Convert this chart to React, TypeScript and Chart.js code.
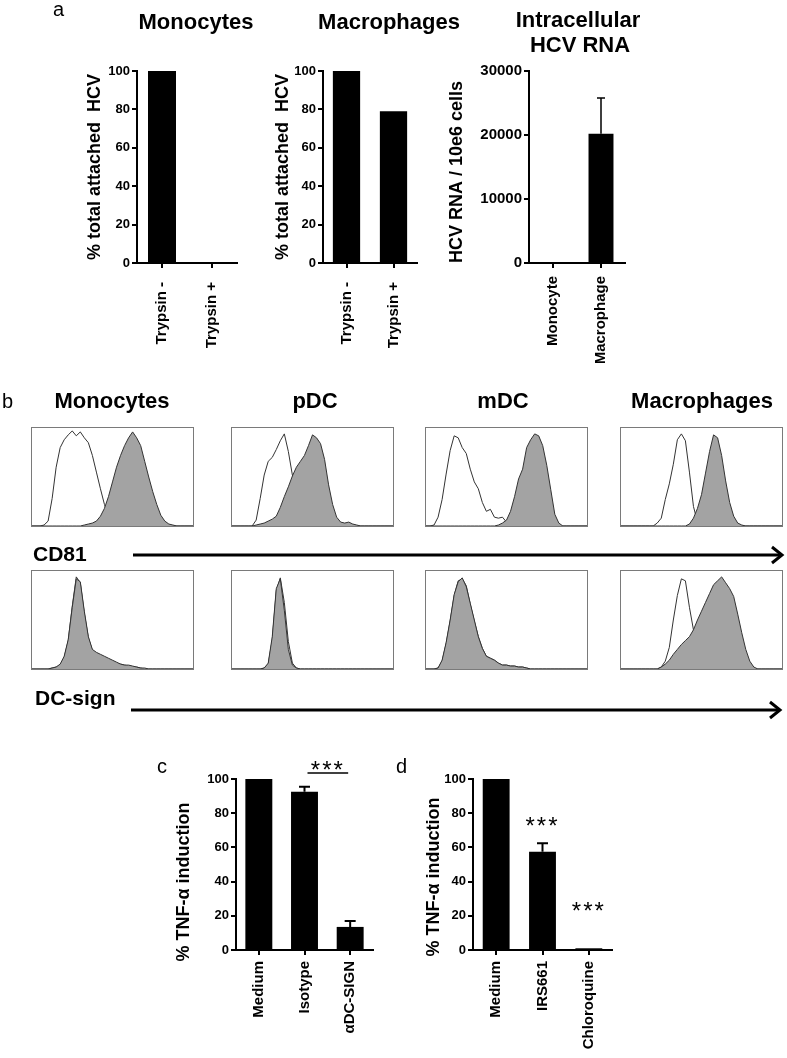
import React, { useEffect, useRef } from 'react';
import { Chart, registerables } from 'chart.js';
Chart.register(...registerables);

const FONT = '"Liberation Sans", Arial, Helvetica, sans-serif';

// ---------- Panel a ----------
const monoCategories = ['Trypsin -', 'Trypsin +'];
const monoAttached = [100, 0];
const macroCategories = ['Trypsin -', 'Trypsin +'];
const macroAttached = [100, 79];
const rnaCategories = ['Monocyte', 'Macrophage'];
const rnaValues = [0, 20200];
const rnaErrors = [0, 5600];
const percentTicks = [0, 20, 40, 60, 80, 100];
const rnaTicks = [0, 10000, 20000, 30000];

// ---------- Panel c ----------
const cCategories = ['Medium', 'Isotype', 'αDC-SIGN'];
const cValues = [100, 92.5, 13.5];
const cErrors = [0, 3, 3.5];
const cBracketText = '***';
const cBracketLevel = 103.5;
const cBracketTextLevel = 100.6;

// ---------- Panel d ----------
const dCategories = ['Medium', 'IRS661', 'Chloroquine'];
const dValues = [100, 57.5, 1];
const dErrors = [0, 5, 0];
const dStarLabels = ['', '***', '***'];
const dStarLevels = [0, 68, 18];

// ---------- Panel b (flow histograms, % of box width / % of max) ----------
const histBins = [0, 2.5, 5, 7.5, 10, 12.5, 15, 17.5, 20, 22.5, 25, 27.5, 30, 32.5, 35, 37.5, 40, 42.5, 45, 47.5, 50,
  52.5, 55, 57.5, 60, 62.5, 65, 67.5, 70, 72.5, 75, 77.5, 80, 82.5, 85, 87.5, 90, 92.5, 95, 97.5, 100];

const monoCd81Iso = [0, 0, 0, 1, 5, 28, 60, 80, 88, 93, 97, 92, 96, 90, 85, 72, 55, 38, 22, 10, 4, 1, 0, 0, 0, 0, 0, 0, 0, 0, 0, 0, 0, 0, 0, 0, 0, 0, 0, 0, 0];
const monoCd81Pos = [0, 0, 0, 0, 0, 0, 0, 0, 0, 0, 0, 0, 0, 1, 2, 3, 5, 10, 18, 30, 45, 60, 72, 82, 90, 96, 90, 82, 66, 50, 35, 22, 11, 5, 2, 1, 0, 0, 0, 0, 0];
const pdcCd81Iso = [0, 0, 0, 0, 0, 0, 6, 28, 52, 66, 70, 78, 87, 94, 76, 52, 38, 25, 12, 5, 2, 0, 0, 0, 0, 0, 0, 0, 0, 0, 0, 0, 0, 0, 0, 0, 0, 0, 0, 0, 0];
const pdcCd81Pos = [0, 0, 0, 0, 0, 0, 1, 2, 3, 5, 7, 10, 19, 30, 40, 51, 60, 66, 72, 82, 93, 90, 84, 68, 42, 22, 9, 4, 3, 4, 2, 1, 0, 0, 0, 0, 0, 0, 0, 0, 0];
const mdcCd81Iso = [0, 0, 1, 9, 27, 53, 77, 92, 90, 80, 74, 58, 45, 38, 24, 15, 17, 9, 8, 9, 4, 1, 0, 0, 0, 0, 0, 0, 0, 0, 0, 0, 0, 0, 0, 0, 0, 0, 0, 0, 0];
const mdcCd81Pos = [0, 0, 0, 0, 0, 0, 0, 0, 0, 0, 0, 0, 0, 0, 0, 0, 0, 0, 1, 3, 6, 15, 30, 48, 58, 80, 88, 94, 92, 82, 62, 37, 12, 3, 0, 0, 0, 0, 0, 0, 0];
const macCd81Iso = [0, 0, 0, 0, 0, 0, 0, 0, 0, 3, 8, 27, 43, 63, 88, 94, 87, 55, 20, 4, 0, 0, 0, 0, 0, 0, 0, 0, 0, 0, 0, 0, 0, 0, 0, 0, 0, 0, 0, 0, 0];
const macCd81Pos = [0, 0, 0, 0, 0, 0, 0, 0, 0, 0, 0, 0, 0, 0, 0, 0, 0, 2, 8, 18, 32, 54, 76, 93, 90, 72, 46, 24, 10, 3, 1, 0, 0, 0, 0, 0, 0, 0, 0, 0, 0];

const monoDcIso = [0, 0, 0, 0, 0, 1, 2, 4, 12, 29, 64, 94, 88, 57, 32, 19, 16, 14, 12, 10, 8, 6, 5, 4, 3, 2, 2, 1, 0, 0, 0, 0, 0, 0, 0, 0, 0, 0, 0, 0, 0];
const monoDcPos = [0, 0, 0, 0, 0, 1, 2, 5, 13, 30, 63, 92, 89, 59, 33, 20, 17, 15, 13, 11, 9, 7, 5, 4, 4, 3, 2, 1, 1, 0, 0, 0, 0, 0, 0, 0, 0, 0, 0, 0, 0];
const pdcDcIso = [0, 0, 0, 0, 0, 0, 0, 0, 1, 5, 30, 80, 93, 68, 28, 6, 1, 0, 0, 0, 0, 0, 0, 0, 0, 0, 0, 0, 0, 0, 0, 0, 0, 0, 0, 0, 0, 0, 0, 0, 0];
const pdcDcPos = [0, 0, 0, 0, 0, 0, 0, 0, 1, 6, 33, 82, 92, 60, 20, 4, 1, 0, 0, 0, 0, 0, 0, 0, 0, 0, 0, 0, 0, 0, 0, 0, 0, 0, 0, 0, 0, 0, 0, 0, 0];
const mdcDcIso = [0, 0, 0, 1, 8, 26, 49, 75, 90, 92, 85, 66, 49, 33, 21, 13, 11, 9, 6, 4, 4, 3, 3, 2, 2, 1, 0, 0, 0, 0, 0, 0, 0, 0, 0, 0, 0, 0, 0, 0, 0];
const mdcDcPos = [0, 0, 0, 1, 9, 27, 50, 76, 89, 93, 84, 67, 50, 33, 21, 13, 11, 9, 6, 4, 4, 3, 3, 2, 2, 1, 0, 0, 0, 0, 0, 0, 0, 0, 0, 0, 0, 0, 0, 0, 0];
const macDcIso = [0, 0, 0, 0, 0, 0, 0, 0, 0, 0, 2, 8, 22, 50, 75, 92, 90, 63, 40, 20, 8, 2, 0, 0, 0, 0, 0, 0, 0, 0, 0, 0, 0, 0, 0, 0, 0, 0, 0, 0, 0];
const macDcPos = [0, 0, 0, 0, 0, 0, 0, 0, 0, 0, 2, 5, 9, 15, 20, 25, 29, 33, 40, 50, 59, 68, 77, 86, 90, 94, 88, 82, 74, 56, 37, 20, 8, 2, 0, 0, 0, 0, 0, 0, 0];

interface BarProps {
  box: { left: number; top: number; width: number; height: number };
  yAxisWidth: number;
  xAxisHeight: number;
  padTop: number;
  padRight: number;
  categories: string[];
  values: number[];
  errors?: number[];
  ticks: number[];
  yMax: number;
  yTitle: string;
  tickSize: number;
  labelSize: number;
  labelPad: number;
  titleSize: number;
  barFrac: number;
  capWidth: number;
  errWidth: number;
  axisWidth: number;
  bracket?: { from: number; to: number; level: number; textLevel: number; text: string };
  stars?: { labels: string[]; levels: number[] };
}

function BarPanel(p: BarProps) {
  const ref = useRef<HTMLCanvasElement | null>(null);
  useEffect(() => {
    const canvas = ref.current;
    if (!canvas) return;
    const overlay = {
      id: 'errorsAndStars',
      afterDatasetsDraw(chart: any) {
        const ctx = chart.ctx;
        const xs = chart.scales.x;
        const ys = chart.scales.y;
        ctx.save();
        ctx.strokeStyle = '#000';
        ctx.lineWidth = p.errWidth;
        (p.errors || []).forEach((e, i) => {
          if (!e) return;
          const cx = xs.getPixelForValue(i);
          const y0 = ys.getPixelForValue(p.values[i]);
          const y1 = ys.getPixelForValue(p.values[i] + e);
          ctx.beginPath();
          ctx.moveTo(cx, y0);
          ctx.lineTo(cx, y1);
          ctx.moveTo(cx - p.capWidth / 2, y1);
          ctx.lineTo(cx + p.capWidth / 2, y1);
          ctx.stroke();
        });
        ctx.fillStyle = '#000';
        ctx.font = `24px ${FONT}`;
        ctx.textAlign = 'center';
        ctx.textBaseline = 'alphabetic';
        try { (ctx as any).letterSpacing = '2px'; } catch (err) { /* ignore */ }
        if (p.stars) {
          p.stars.labels.forEach((t, i) => {
            if (!t) return;
            ctx.fillText(t, xs.getPixelForValue(i), ys.getPixelForValue(p.stars!.levels[i]));
          });
        }
        if (p.bracket) {
          const b = p.bracket;
          const x1 = xs.getPixelForValue(b.from) + 3;
          const x2 = xs.getPixelForValue(b.to) - 2;
          const yl = ys.getPixelForValue(b.level);
          ctx.lineWidth = 1.5;
          ctx.beginPath();
          ctx.moveTo(x1, yl);
          ctx.lineTo(x2, yl);
          ctx.stroke();
          ctx.fillText(b.text, (x1 + x2) / 2, ys.getPixelForValue(b.textLevel));
        }
        ctx.restore();
      },
    };
    const chart = new Chart(canvas, {
      type: 'bar',
      data: {
        labels: p.categories,
        datasets: [{
          data: p.values,
          backgroundColor: '#000',
          borderWidth: 0,
          barPercentage: p.barFrac,
          categoryPercentage: 1,
        }],
      },
      options: {
        responsive: false,
        animation: false,
        events: [],
        layout: { padding: { top: p.padTop, right: p.padRight, left: 0, bottom: 0 } },
        plugins: { legend: { display: false }, tooltip: { enabled: false } },
        scales: {
          x: {
            offset: true,
            afterFit: (s: any) => { s.height = p.xAxisHeight; },
            ticks: {
              autoSkip: false, maxRotation: 90, minRotation: 90, color: '#000', padding: p.labelPad,
              font: { family: FONT, size: p.labelSize, weight: 'bold' },
            },
            grid: { display: true, drawOnChartArea: false, offset: false, tickLength: 5, color: '#000', lineWidth: p.axisWidth },
            border: { display: true, color: '#000', width: p.axisWidth },
          },
          y: {
            min: 0,
            max: p.yMax,
            afterBuildTicks: (s: any) => { s.ticks = p.ticks.map((v) => ({ value: v })); },
            afterFit: (s: any) => { s.width = p.yAxisWidth; },
            ticks: {
              color: '#000', padding: 2,
              font: { family: FONT, size: p.tickSize, weight: 'bold' },
              callback: (v: any) => String(v),
            },
            grid: { display: true, drawOnChartArea: false, tickLength: 5, color: '#000', lineWidth: p.axisWidth },
            border: { display: true, color: '#000', width: p.axisWidth },
            title: {
              display: true, text: p.yTitle, color: '#000', padding: { top: 0, bottom: 0 },
              font: { family: FONT, size: p.titleSize, weight: 'bold' },
            },
          },
        },
      } as any,
      plugins: [overlay],
    });
    return () => chart.destroy();
  }, []);
  return (
    <canvas
      ref={ref}
      width={p.box.width}
      height={p.box.height}
      style={{ position: 'absolute', left: p.box.left, top: p.box.top }}
    />
  );
}

function Histogram({ left, top, stained, isotype }: { left: number; top: number; stained: number[]; isotype: number[] }) {
  const ref = useRef<HTMLCanvasElement | null>(null);
  useEffect(() => {
    const canvas = ref.current;
    if (!canvas) return;
    const chart = new Chart(canvas, {
      type: 'line',
      data: {
        labels: histBins.map(String),
        datasets: [
          { data: stained, fill: 'origin', backgroundColor: '#a3a3a3', borderColor: '#333', borderWidth: 1, pointRadius: 0, tension: 0 },
          { data: isotype, fill: false, borderColor: '#333', borderWidth: 1, pointRadius: 0, tension: 0 },
        ],
      },
      options: {
        responsive: false,
        animation: false,
        events: [],
        layout: { padding: 0 },
        plugins: { legend: { display: false }, tooltip: { enabled: false } },
        scales: {
          x: { display: false, offset: false },
          y: { display: false, min: 0, max: 100 },
        },
      } as any,
    });
    return () => chart.destroy();
  }, []);
  return (
    <div style={{ position: 'absolute', left, top, width: 163, height: 100, border: '1px solid #7a7a7a', boxSizing: 'border-box', background: '#fff' }}>
      <canvas ref={ref} width={161} height={98} />
    </div>
  );
}

export default function App() {
  const histX = [31, 231, 425, 620];
  const row1 = [[monoCd81Pos, monoCd81Iso], [pdcCd81Pos, pdcCd81Iso], [mdcCd81Pos, mdcCd81Iso], [macCd81Pos, macCd81Iso]];
  const row2 = [[monoDcPos, monoDcIso], [pdcDcPos, pdcDcIso], [mdcDcPos, mdcDcIso], [macDcPos, macDcIso]];
  const common = { capWidth: 8, errWidth: 1.5, axisWidth: 2 };
  return (
    <div style={{ position: 'absolute', left: 0, top: 0, width: 787, height: 1058, background: '#fff', overflow: 'hidden' }}>
      <BarPanel
        {...common}
        box={{ left: 84, top: 55, width: 163, height: 308 }}
        yAxisWidth={53} xAxisHeight={100} padTop={16} padRight={10}
        categories={monoCategories} values={monoAttached}
        ticks={percentTicks} yMax={100} yTitle="% total attached  HCV"
        tickSize={13} labelSize={15} labelPad={14} titleSize={18} barFrac={0.56}
      />
      <BarPanel
        {...common}
        box={{ left: 272, top: 55, width: 156, height: 308 }}
        yAxisWidth={51} xAxisHeight={100} padTop={16} padRight={10}
        categories={macroCategories} values={macroAttached}
        ticks={percentTicks} yMax={100} yTitle="% total attached  HCV"
        tickSize={13} labelSize={15} labelPad={14} titleSize={18} barFrac={0.58}
      />
      <BarPanel
        {...common}
        box={{ left: 446, top: 55, width: 189, height: 308 }}
        yAxisWidth={83} xAxisHeight={100} padTop={16} padRight={10}
        categories={rnaCategories} values={rnaValues} errors={rnaErrors}
        ticks={rnaTicks} yMax={30000} yTitle="HCV RNA / 10e6 cells  "
        tickSize={15} labelSize={15} labelPad={8} titleSize={18} barFrac={0.52}
      />
      <BarPanel
        {...common}
        capWidth={11} errWidth={2}
        box={{ left: 173, top: 740, width: 210, height: 310 }}
        yAxisWidth={63} xAxisHeight={100} padTop={39} padRight={10}
        categories={cCategories} values={cValues} errors={cErrors}
        ticks={percentTicks} yMax={100} yTitle={'% TNF-α induction       '}
        tickSize={13} labelSize={15} labelPad={6} titleSize={18} barFrac={0.59}
        bracket={{ from: 1, to: 2, level: cBracketLevel, textLevel: cBracketTextLevel, text: cBracketText }}
      />
      <BarPanel
        {...common}
        capWidth={11} errWidth={2}
        box={{ left: 423, top: 740, width: 199, height: 310 }}
        yAxisWidth={50} xAxisHeight={100} padTop={39} padRight={10}
        categories={dCategories} values={dValues} errors={dErrors}
        ticks={percentTicks} yMax={100} yTitle={'% TNF-α induction     '}
        tickSize={13} labelSize={15} labelPad={6} titleSize={18} barFrac={0.58}
        stars={{ labels: dStarLabels, levels: dStarLevels }}
      />
      {row1.map((d, i) => (
        <Histogram key={'r1' + i} left={histX[i]} top={427} stained={d[0]} isotype={d[1]} />
      ))}
      {row2.map((d, i) => (
        <Histogram key={'r2' + i} left={histX[i]} top={570} stained={d[0]} isotype={d[1]} />
      ))}
      <svg width={787} height={1058} style={{ position: 'absolute', left: 0, top: 0, pointerEvents: 'none' }} fontFamily={FONT} fill="#000">
        <text x={53} y={16} fontSize={20}>a</text>
        <text x={196} y={29} fontSize={22} fontWeight="bold" textAnchor="middle">Monocytes</text>
        <text x={389} y={29} fontSize={22} fontWeight="bold" textAnchor="middle">Macrophages</text>
        <text x={578} y={27} fontSize={22} fontWeight="bold" textAnchor="middle">Intracellular</text>
        <text x={580} y={52} fontSize={22} fontWeight="bold" textAnchor="middle">HCV RNA</text>

        <text x={2} y={408} fontSize={20}>b</text>
        <text x={112} y={408} fontSize={22} fontWeight="bold" textAnchor="middle">Monocytes</text>
        <text x={315} y={408} fontSize={22} fontWeight="bold" textAnchor="middle">pDC</text>
        <text x={503} y={408} fontSize={22} fontWeight="bold" textAnchor="middle">mDC</text>
        <text x={702} y={408} fontSize={22} fontWeight="bold" textAnchor="middle">Macrophages</text>

        <text x={33} y={561} fontSize={21} fontWeight="bold">CD81</text>
        <line x1={133} y1={555} x2={780} y2={555} stroke="#000" strokeWidth={3} />
        <polyline points="772,547 782,555 772,563" fill="none" stroke="#000" strokeWidth={3} />

        <text x={35} y={705} fontSize={21} fontWeight="bold">DC-sign</text>
        <line x1={131} y1={710} x2={778} y2={710} stroke="#000" strokeWidth={3} />
        <polyline points="770,702 780,710 770,718" fill="none" stroke="#000" strokeWidth={3} />

        <text x={157} y={773} fontSize={20}>c</text>
        <text x={396} y={773} fontSize={20}>d</text>
      </svg>
    </div>
  );
}
